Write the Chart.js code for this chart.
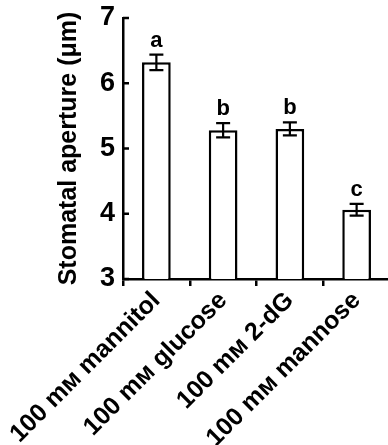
<!DOCTYPE html>
<html>
<head>
<meta charset="utf-8">
<script src="https://cdn.jsdelivr.net/npm/chart.js@4.4.0/dist/chart.umd.min.js"></script>
<style>
  html, body { margin: 0; padding: 0; background: #fff; overflow: hidden; }
  #wrap { width: 390px; height: 445px; }
</style>
</head>
<body>
<div id="wrap"><canvas id="apertureChart" width="390" height="445"></canvas></div>
<script>
// data
const categories = ['100 m\u1D0D mannitol', '100 m\u1D0D glucose', '100 m\u1D0D 2-dG', '100 m\u1D0D mannose'];
const apertureMeans = [6.32, 5.28, 5.30, 4.06];
const apertureErrors = [0.12, 0.11, 0.10, 0.09];
const groupLetters = ['a', 'b', 'b', 'c'];
const yTickValues = [3, 4, 5, 6, 7];

const fontFamily = "'Liberation Sans', Arial, Helvetica, sans-serif";

// error bars + significance letters
const errorBarPlugin = {
    id: 'errorBars',
    afterDatasetsDraw(chart) {
        const ctx = chart.ctx;
        const xScale = chart.scales.x;
        const yScale = chart.scales.y;
        ctx.save();
        ctx.strokeStyle = '#000';
        ctx.lineWidth = 2.2;
        ctx.fillStyle = '#000';
        ctx.font = 'bold 22px ' + fontFamily;
        ctx.textAlign = 'center';
        ctx.textBaseline = 'alphabetic';
        apertureMeans.forEach((m, i) => {
            const x = xScale.getPixelForValue(i);
            const top = yScale.getPixelForValue(m + apertureErrors[i]);
            const bot = yScale.getPixelForValue(m - apertureErrors[i]);
            const half = 7;
            ctx.beginPath();
            ctx.moveTo(x, top); ctx.lineTo(x, bot);
            ctx.moveTo(x - half, top); ctx.lineTo(x + half, top);
            ctx.moveTo(x - half, bot); ctx.lineTo(x + half, bot);
            ctx.stroke();
            ctx.fillText(groupLetters[i], x, top - 8);
        });
        ctx.restore();
    }
};

// y ticks point inward
const innerTicksPlugin = {
    id: 'innerTicks',
    afterDraw(chart) {
        const ctx = chart.ctx;
        const yScale = chart.scales.y;
        ctx.save();
        ctx.strokeStyle = '#000';
        ctx.lineWidth = 2.5;
        yTickValues.forEach(v => {
            const y = yScale.getPixelForValue(v);
            ctx.beginPath();
            ctx.moveTo(yScale.right, y);
            ctx.lineTo(yScale.right + 6, y);
            ctx.stroke();
        });
        ctx.restore();
    }
};

const ctx = document.getElementById('apertureChart').getContext('2d');
const apertureChart = new Chart(ctx, {
    type: 'bar',
    data: {
        labels: categories,
        datasets: [{
            data: apertureMeans,
            backgroundColor: '#fff',
            borderColor: '#000',
            borderWidth: 2.5,
            categoryPercentage: 1,
            barPercentage: 0.43
        }]
    },
    options: {
        responsive: false,
        animation: false,
        layout: { padding: { left: 54, top: 18, right: 0, bottom: 0 } },
        plugins: {
            legend: { display: false },
            tooltip: { enabled: false }
        },
        scales: {
            x: {
                offset: true,
                grid: {
                    display: true,
                    drawOnChartArea: false,
                    drawTicks: true,
                    tickLength: 7,
                    color: '#000',
                    lineWidth: 2.5
                },
                border: { display: true, color: '#000', width: 2.5 },
                ticks: {
                    color: '#000',
                    font: { family: fontFamily, size: 25, weight: 'bold' },
                    minRotation: 45,
                    maxRotation: 45,
                    padding: 0,
                    autoSkip: false
                },
                afterFit(scale) {
                    scale.height = 166;
                    scale.paddingLeft = 0;
                    scale.paddingRight = 0;
                }
            },
            y: {
                min: 3,
                max: 7,
                afterBuildTicks(scale) {
                    scale.ticks = yTickValues.map(v => ({ value: v }));
                },
                grid: { display: false, drawTicks: false },
                border: { display: true, color: '#000', width: 2.5 },
                ticks: {
                    color: '#000',
                    font: { family: fontFamily, size: 27, weight: 'bold' },
                    padding: 8
                },
                title: {
                    display: true,
                    text: 'Stomatal aperture (\u03BCm)',
                    color: '#000',
                    font: { family: fontFamily, size: 25, weight: 'bold' },
                    padding: 0
                },
                afterFit(scale) {
                    scale.width = 69;
                    scale.paddingTop = 0;
                    scale.paddingBottom = 0;
                }
            }
        }
    },
    plugins: [errorBarPlugin, innerTicksPlugin]
});
</script>
</body>
</html>
